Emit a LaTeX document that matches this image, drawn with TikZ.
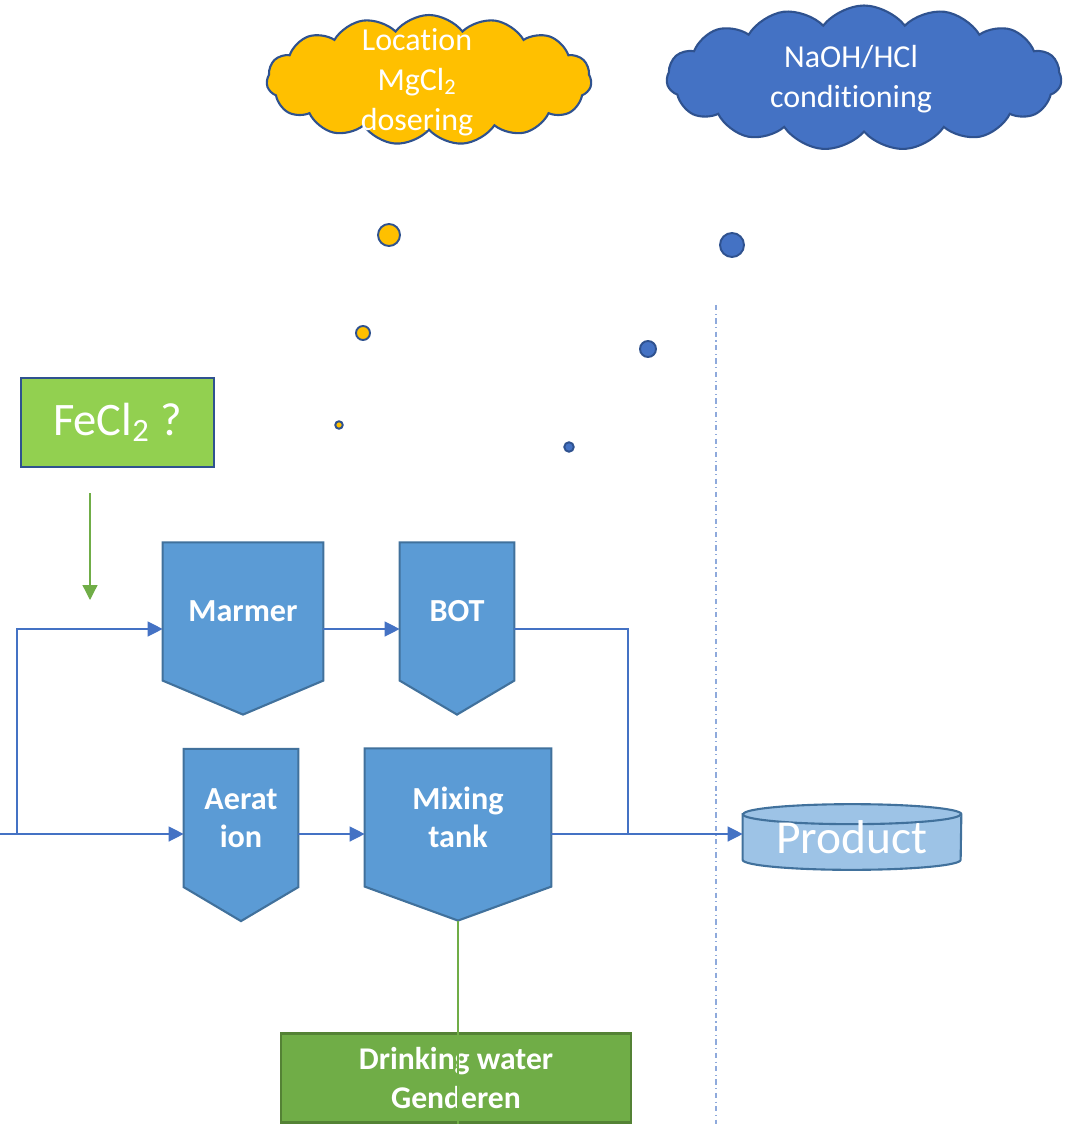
\documentclass[tikz,border=0pt]{standalone}
\usepackage{fontspec}
\setmainfont{Carlito}[Ligatures=NoCommon]
\usepackage{tikz}
\usetikzlibrary{arrows.meta}
\usetikzlibrary{backgrounds}
\usetikzlibrary{calc}
\usetikzlibrary{shapes.symbols}

\definecolor{edgeblue}{HTML}{2F528F}
\definecolor{unitfill}{HTML}{5B9BD5}
\definecolor{unitedge}{HTML}{41719C}
\definecolor{flowblue}{HTML}{4472C4}
\definecolor{mgyellow}{HTML}{FFC000}
\definecolor{fegreen}{HTML}{92D050}
\definecolor{drinkgreen}{HTML}{70AD47}
\definecolor{drinkedge}{HTML}{548235}
\definecolor{prodfill}{HTML}{9DC3E6}
\definecolor{seplight}{HTML}{8FAADC}

\begin{document}
\begin{tikzpicture}[x=0.02cm,y=-0.02cm,
    flow/.style={draw=flowblue,line width=0.75pt,-{Triangle[length=0.3cm,width=0.3cm]}},
    plain/.style={draw=flowblue,line width=0.75pt},
    unit/.style={minimum width=#1,minimum height=2.75cm,inner sep=0pt,
                 text=white,align=center,font=\fontsize{18.3}{21.5}\selectfont\bfseries},
    unitshape/.style={fill=unitfill,draw=unitedge,line width=1.2pt,line join=miter},
    puff/.style={cloud,cloud puffs=15,cloud puff arc=105,cloud ignores aspect,draw=edgeblue,line width=1.2pt},
    cloudtext/.style={text=white,align=center,font=\fontsize{18.2}{22.7}\selectfont},
    dot/.style={circle,draw=edgeblue,line width=1.1pt,inner sep=0pt}]
    \useasboundingbox (0,0) rectangle (1076,1124);

    % dosing clouds
    \node[puff,fill=mgyellow,minimum width=6.5cm,minimum height=2.6cm] (mgcloud) at (429,80) {};
    \node[cloudtext] (mgtext) at (417,82) {Location\\MgCl\textsubscript{2}\\dosering};
    \node[puff,fill=flowblue,minimum width=7.9cm,minimum height=2.9cm] (phcloud) at (864,78) {};
    \node[cloudtext] (phtext) at (851,79) {NaOH/HCl\\conditioning};

    \begin{scope}[every node/.style={dot}]
        \node[fill=mgyellow,minimum size=0.44cm] (mgdot1) at (389,235) {};
        \node[fill=mgyellow,minimum size=0.28cm] (mgdot2) at (363,333) {};
        \node[fill=mgyellow,minimum size=0.15cm] (mgdot3) at (339,425) {};
        \node[fill=flowblue,minimum size=0.48cm] (phdot1) at (732,245) {};
        \node[fill=flowblue,minimum size=0.32cm] (phdot2) at (648,349) {};
        \node[fill=flowblue,minimum size=0.19cm] (phdot3) at (569,447) {};
    \end{scope}

    % separator
    \coordinate (septop) at (716,305);
    \coordinate (sepbot) at (716,1124);
    \draw[seplight,line width=0.6pt,dash pattern=on 3pt off 2pt on 0.6pt off 2pt] (septop) -- (sepbot);

    \node[fill=fegreen,draw=edgeblue,line width=1.2pt,minimum width=3.86cm,minimum height=1.78cm,
          text=white,font=\fontsize{26.5}{30}\selectfont] (fecl) at (117.5,422.5) {FeCl\textsubscript{2} ?};
    \coordinate (dosetop) at (90,493);
    \coordinate (dosebot) at (90,600);
    \draw[drinkgreen,line width=0.75pt,-{Triangle[length=0.3cm,width=0.3cm]}] (dosetop) -- (dosebot);

    % treatment units
    \node[unit=3.2cm]  (marmer) at (243,611.5) {Marmer};
    \node[unit=2.28cm] (bot)    at (457,611.5) {BOT};
    \node[unit=2.28cm] (aer)    at (241,818)   {Aerat\\ion};
    \node[unit=3.72cm] (mix)    at (458,817.5) {Mixing\\tank};
    \begin{scope}[on background layer]
        \foreach \u in {marmer,bot,aer,mix}
            \filldraw[unitshape] (\u.north west) -- (\u.north east) -- (\u.south east)
                -- ($(\u.south)+(0,34)$) -- (\u.south west) -- cycle;
    \end{scope}

    % product tank
    \node[minimum width=4.36cm,minimum height=0.9cm,inner sep=0pt,text=white,
          font=\fontsize{27}{30}\selectfont] (prod) at (852,837) {Product};
    \begin{scope}[on background layer]
        \filldraw[fill=prodfill,draw=unitedge,line width=1.2pt] (prod.north west) -- (prod.south west)
            arc[start angle=180,end angle=360,x radius=2.18cm,y radius=0.2cm] -- (prod.north east)
            arc[start angle=0,end angle=180,x radius=2.18cm,y radius=0.2cm] -- cycle;
        \draw[unitedge,line width=1.2pt] (prod.north west)
            arc[start angle=180,end angle=360,x radius=2.18cm,y radius=0.2cm];
    \end{scope}

    \node[fill=drinkgreen,draw=drinkedge,line width=1.2pt,minimum width=7cm,minimum height=1.78cm,
          text=white,align=center,font=\fontsize{18}{22.7}\selectfont\bfseries] (drink) at (456,1078)
          {Drinking water\\Genderen};

    % flows
    \coordinate (inlet) at (0,834);
    \coordinate (split) at (17,834);
    \coordinate (rowa) at (0,629);
    \coordinate (joint) at (628,834);
    \coordinate (mixtip) at ($(mix.south)+(0,34)$);
    \draw[plain] (inlet) -- (split);
    \draw[flow] (split) -- (aer.west |- inlet);
    \draw[flow] (split) |- (marmer.west |- rowa);
    \draw[flow] (marmer.east |- rowa) -- (bot.west |- rowa);
    \draw[plain] (bot.east |- rowa) -| (joint);
    \draw[flow] (aer.east |- inlet) -- (mix.west |- inlet);
    \draw[flow] (mix.east |- inlet) -- (prod.west |- inlet);
    \draw[drinkgreen,line width=1.1pt] (mixtip) -- (mixtip |- drink.south);
\end{tikzpicture}
\end{document}
